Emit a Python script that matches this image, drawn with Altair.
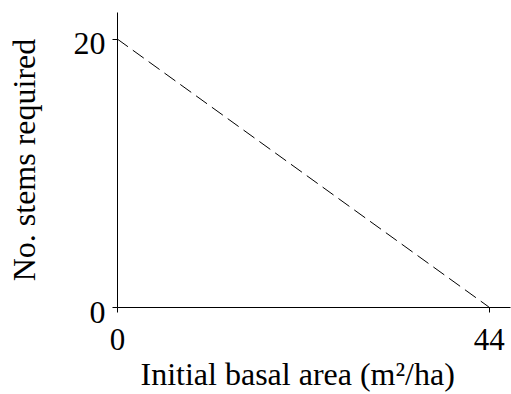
import altair as alt
import pandas as pd

basal_area = [0, 44]
stems_required = [20, 0]

df = pd.DataFrame({"x": basal_area, "y": stems_required})

FONT = "Liberation Serif"

chart = (
    alt.Chart(df)
    .mark_line(color="black", strokeWidth=1, strokeDash=[13.5, 6])
    .encode(
        x=alt.X(
            "x:Q",
            scale=alt.Scale(domain=[0, 46.5], nice=False, zero=False),
            axis=alt.Axis(
                values=[0, 44],
                title="Initial basal area (m²/ha)",
                grid=False,
                tickSize=5,
                labelPadding=13,
                titlePadding=4,
                labelFontSize=31,
                titleFontSize=32,
                titleAnchor="start",
                titleAlign="left",
                titleX=23,
            ),
        ),
        y=alt.Y(
            "y:Q",
            scale=alt.Scale(domain=[0, 22], nice=False, zero=False),
            axis=alt.Axis(
                values=[0, 20],
                title="No. stems required",
                grid=False,
                tickSize=5,
                labelPadding=7,
                labelOffset=5,
                titlePadding=32,
                labelFontSize=32,
                titleFontSize=32,
            ),
        ),
    )
    .properties(
        width=393,
        height=295,
        autosize=alt.AutoSizeParams(type="none"),
        padding={"left": 117, "top": 12, "right": 1, "bottom": 87},
    )
    .configure_view(stroke=None)
    .configure_axis(
        domainColor="black",
        domainWidth=1,
        tickColor="black",
        tickWidth=1,
        labelFont=FONT,
        labelColor="black",
        titleFont=FONT,
        titleFontWeight="normal",
        titleColor="black",
        labelFlush=False,
    )
)

chart.save("out.html", embed_options={"renderer": "svg", "actions": False})
